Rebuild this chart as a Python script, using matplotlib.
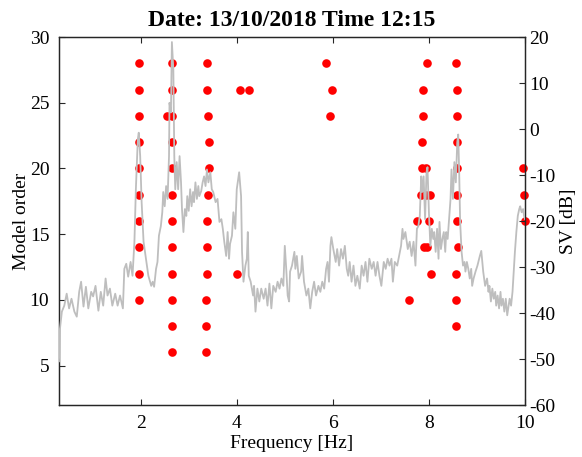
import matplotlib
matplotlib.use("Agg")
import matplotlib.pyplot as plt

plt.rcParams['font.family'] = ['Liberation Serif', 'DejaVu Serif']
plt.rcParams['axes.unicode_minus'] = False

# Singular-value spectrum (right axis)
sv_freq = [0.30, 0.32, 0.36, 0.41, 0.46, 0.51, 0.56, 0.62, 0.67, 0.72, 0.76, 0.81, 0.86, 0.91, 0.97,
           1.01, 1.06, 1.12, 1.17, 1.22, 1.27, 1.31, 1.36, 1.41, 1.47, 1.52, 1.57, 1.63, 1.66, 1.70,
           1.74, 1.79, 1.83, 1.87, 1.90, 1.94, 1.96, 1.99, 2.02, 2.06, 2.11, 2.16, 2.22, 2.25, 2.28,
           2.32, 2.35, 2.38, 2.42, 2.45, 2.47, 2.50, 2.53, 2.56, 2.59, 2.60, 2.63, 2.65, 2.68, 2.70,
           2.72, 2.75, 2.78, 2.81, 2.84, 2.86, 2.89, 2.92, 2.95, 2.97, 3.00, 3.03, 3.06, 3.09, 3.11,
           3.14, 3.17, 3.20, 3.22, 3.26, 3.29, 3.32, 3.35, 3.38, 3.41, 3.45, 3.48, 3.51, 3.56, 3.60,
           3.64, 3.68, 3.71, 3.74, 3.78, 3.81, 3.84, 3.86, 3.90, 3.93, 3.97, 4.00, 4.05, 4.09, 4.11,
           4.14, 4.18, 4.21, 4.23, 4.25, 4.29, 4.34, 4.36, 4.39, 4.43, 4.47, 4.51, 4.56, 4.60, 4.64,
           4.68, 4.72, 4.76, 4.81, 4.85, 4.89, 4.93, 4.97, 5.00, 5.03, 5.06, 5.09, 5.11, 5.15, 5.20,
           5.22, 5.25, 5.29, 5.34, 5.36, 5.40, 5.45, 5.49, 5.53, 5.57, 5.61, 5.65, 5.70, 5.74, 5.78,
           5.82, 5.86, 5.89, 5.92, 5.95, 5.97, 6.01, 6.06, 6.09, 6.13, 6.17, 6.21, 6.25, 6.29, 6.32,
           6.35, 6.39, 6.43, 6.47, 6.51, 6.56, 6.60, 6.64, 6.68, 6.72, 6.76, 6.81, 6.85, 6.89, 6.93,
           6.97, 7.01, 7.06, 7.10, 7.14, 7.18, 7.22, 7.25, 7.29, 7.34, 7.38, 7.42, 7.45, 7.47, 7.51,
           7.56, 7.60, 7.64, 7.68, 7.72, 7.75, 7.78, 7.81, 7.84, 7.86, 7.89, 7.92, 7.95, 7.97, 8.00,
           8.03, 8.06, 8.09, 8.11, 8.14, 8.17, 8.20, 8.22, 8.25, 8.28, 8.31, 8.34, 8.36, 8.39, 8.42,
           8.45, 8.47, 8.50, 8.53, 8.56, 8.59, 8.61, 8.63, 8.65, 8.68, 8.71, 8.74, 8.76, 8.79, 8.82,
           8.85, 8.88, 8.90, 8.93, 8.97, 9.01, 9.06, 9.09, 9.13, 9.17, 9.21, 9.24, 9.26, 9.29, 9.32,
           9.35, 9.38, 9.40, 9.43, 9.46, 9.49, 9.51, 9.54, 9.57, 9.60, 9.63, 9.65, 9.68, 9.71, 9.74,
           9.76, 9.79, 9.82, 9.85, 9.88, 9.90, 9.93, 9.96, 9.98, 10.00]
sv_db = [-50.5, -43.4, -39.7, -38.4, -35.8, -39.0, -36.9, -39.7, -40.8, -35.4, -33.2, -38.6, -34.3, -39.0, -35.4,
         -36.4, -34.1, -39.5, -35.4, -38.4, -32.5, -36.2, -34.7, -38.4, -35.8, -38.4, -36.2, -39.0, -30.4, -29.3,
         -32.1, -28.9, -31.9, -24.5, -13.1, -2.3, -0.8, -5.9, -15.9, -24.5, -28.2, -31.9, -34.1, -33.2, -34.3,
         -30.4, -28.9, -23.2, -21.1, -18.1, -13.7, -16.8, -12.4, -15.2, -5.9, 5.7, 3.6, 18.9, 12.9, -5.9,
         -13.1, -7.2, -13.1, -5.9, -11.6, -17.4, -22.4, -17.4, -18.9, -14.6, -17.8, -13.1, -16.8, -13.7, -15.9,
         -11.6, -15.2, -12.4, -14.6, -13.5, -11.6, -10.3, -12.4, -8.8, -11.6, -9.4, -13.1, -13.7, -15.9, -15.2,
         -20.2, -19.6, -21.7, -24.5, -27.6, -22.4, -28.2, -25.0, -23.2, -18.1, -21.7, -13.1, -9.4, -14.6, -26.7,
         -33.2, -29.7, -28.2, -22.4, -31.9, -33.2, -36.2, -34.1, -39.7, -34.7, -37.5, -34.7, -36.9, -34.7, -38.4,
         -33.6, -39.0, -34.1, -35.4, -33.2, -34.7, -32.5, -34.1, -25.4, -30.4, -36.2, -37.5, -31.0, -29.7, -26.7,
         -30.4, -27.6, -32.5, -31.0, -27.6, -33.2, -36.2, -34.7, -39.0, -35.4, -33.2, -36.2, -34.1, -35.4, -33.2,
         -34.7, -30.4, -28.9, -33.2, -25.4, -23.5, -26.1, -28.9, -26.1, -29.7, -26.1, -28.2, -25.4, -30.4, -31.9,
         -28.9, -33.2, -29.7, -34.1, -31.9, -34.7, -29.7, -31.9, -28.9, -33.2, -28.2, -30.4, -28.9, -31.9, -28.9,
         -31.9, -34.1, -28.9, -30.4, -28.2, -29.7, -28.2, -33.2, -28.9, -29.7, -27.6, -25.4, -21.7, -23.9, -22.4,
         -26.1, -24.5, -27.6, -24.5, -29.7, -21.7, -21.1, -18.9, -10.3, -13.7, -10.3, -19.6, -9.4, -8.3, -18.1,
         -25.4, -21.7, -23.9, -22.4, -26.7, -21.7, -28.2, -20.2, -26.1, -23.9, -22.4, -26.7, -22.4, -23.9, -19.6,
         -15.2, -8.8, -15.2, -7.2, -11.6, -2.9, -1.2, -9.4, -20.2, -26.7, -29.7, -28.9, -31.0, -28.9, -30.4,
         -32.5, -30.4, -34.1, -32.5, -31.0, -29.7, -27.6, -26.5, -31.0, -34.1, -32.5, -35.4, -34.1, -37.5, -34.7,
         -36.9, -35.4, -38.4, -36.2, -39.0, -35.4, -38.4, -36.9, -39.7, -36.9, -40.5, -39.0, -36.9, -38.4, -35.4,
         -31.9, -26.7, -22.4, -18.9, -17.4, -16.8, -18.1, -17.4, -18.9, -19.6]

# Stable poles (left axis): frequency [Hz] and model order
pole_freq = [1.96, 1.96, 1.96, 1.96, 1.96, 1.96, 1.96, 1.96, 1.96, 1.96,
             2.65, 2.66, 2.66, 2.54, 2.66, 2.66, 2.66, 2.66, 2.66, 2.66, 2.66, 2.66, 2.66,
             3.38, 3.38, 3.41, 3.43, 3.42, 3.41, 3.38, 3.38, 3.38, 3.37, 3.37, 3.37,
             4.06, 4.26, 4.01,
             5.85, 5.99, 5.94,
             7.95, 7.88, 7.88, 7.86, 7.86, 7.93, 7.84, 7.94, 8.03, 7.76, 8.01, 7.89, 7.97, 8.05, 7.59,
             8.56, 8.58, 8.58, 8.59, 8.59, 8.59, 8.59, 8.61, 8.56, 8.56, 8.56,
             9.95, 9.98, 10.00]
pole_order = [28, 26, 24, 22, 20, 18, 16, 14, 12, 10,
              28, 26, 24, 24, 22, 20, 18, 16, 14, 12, 10, 8, 6,
              28, 26, 24, 22, 20, 18, 16, 14, 12, 10, 8, 6,
              26, 26, 12,
              28, 26, 24,
              28, 26, 24, 22, 20, 20, 18, 18, 18, 16, 16, 14, 14, 12, 10,
              28, 26, 24, 22, 20, 18, 16, 14, 12, 10, 8,
              20, 18, 16]

x_ticks = [2, 4, 6, 8, 10]
order_ticks = [5, 10, 15, 20, 25, 30]
db_ticks = [-60, -50, -40, -30, -20, -10, 0, 10, 20]

fig = plt.figure(figsize=(5.82, 4.57), dpi=100)
ax = fig.add_axes([59 / 582, 1 - 405 / 457, 466 / 582, 368 / 457])

ax.plot(pole_freq, pole_order, 'o', color='#ff0000', markersize=6.2,
        markeredgewidth=0, clip_on=False, zorder=2)
ax.set_xlim(0.3, 10)
ax.set_ylim(2, 30)
ax.set_xticks(x_ticks)
ax.set_yticks(order_ticks)
ax.set_xlabel('Frequency [Hz]', fontsize=14, labelpad=2)
ax.set_ylabel('Model order', fontsize=14, labelpad=0)
ax.tick_params(direction='in', length=4, width=0.8, labelsize=14, pad=7,
               top=True, right=False, colors='#262626', labelcolor='black')
ax.set_title('Date: 13/10/2018 Time 12:15', fontsize=17, fontweight='bold', pad=8)

ax2 = ax.twinx()
ax2.plot(sv_freq, sv_db, color='#bebebe', linewidth=1.3, zorder=3)
ax2.set_ylim(-60, 20)
ax2.set_yticks(db_ticks)
ax2.set_ylabel('SV [dB]', fontsize=14, labelpad=3)
ax2.tick_params(direction='in', length=4, width=0.8, labelsize=14, pad=3,
                colors='#262626', labelcolor='black')

for a in (ax, ax2):
    for s in a.spines.values():
        s.set_linewidth(0.9)
        s.set_color('#262626')

fig.savefig('out.png', dpi=100)
